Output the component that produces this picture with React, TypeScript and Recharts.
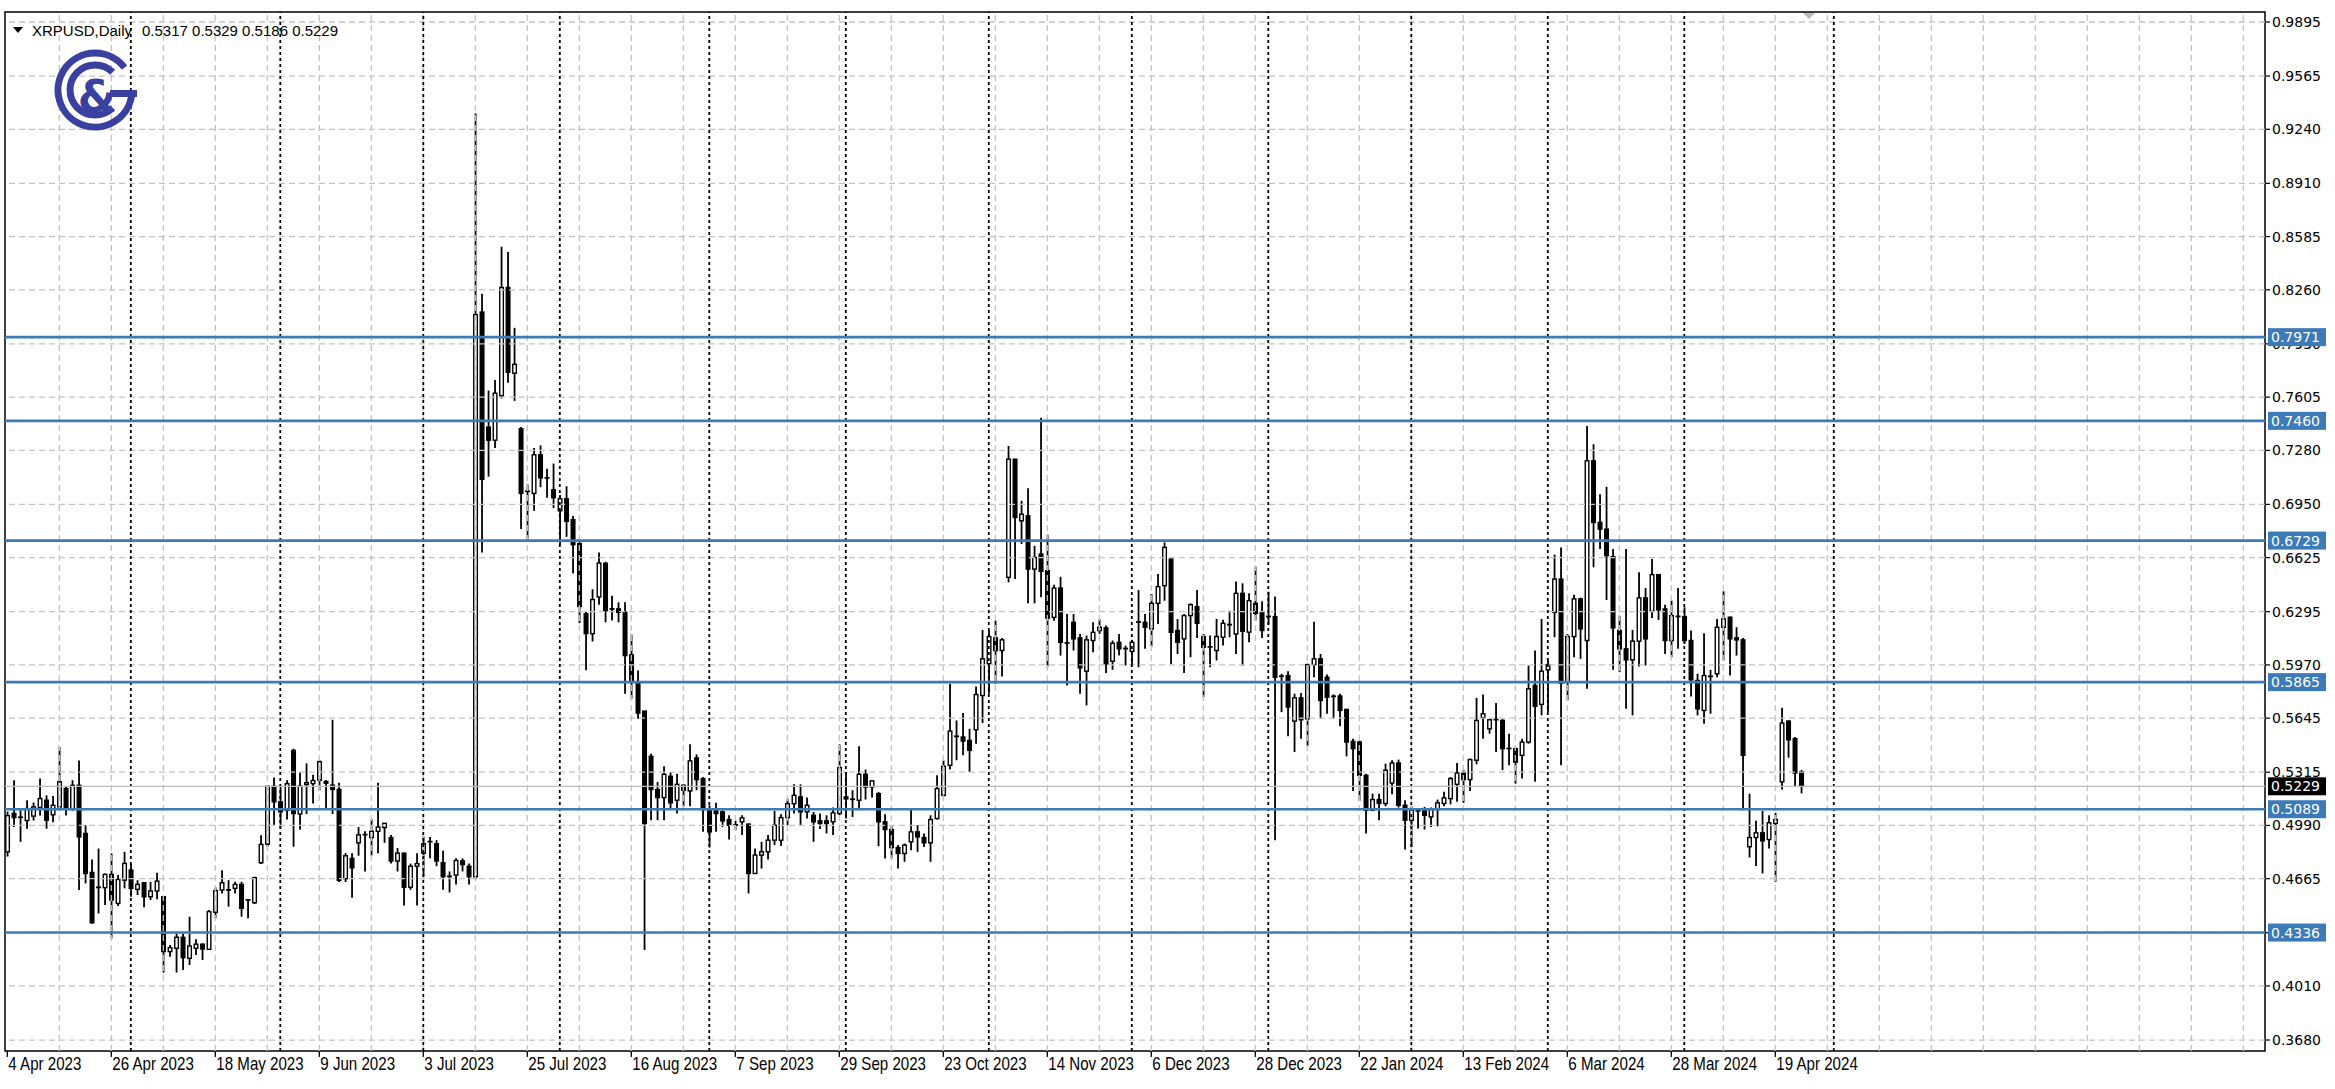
import React from "react";
import { ComposedChart, Bar, XAxis, YAxis, ReferenceLine, ReferenceArea } from "recharts";

// daily bars (weekdays only), bar 0 = 4 Apr 2023
const opens = [
  0.4829, 0.5063, 0.504, 0.502, 0.5047, 0.51, 0.5144, 0.5055, 0.5103, 0.5215,
  0.5093, 0.5235, 0.4941, 0.4703, 0.461, 0.461, 0.4691, 0.4514, 0.4656, 0.4717,
  0.46, 0.464, 0.4555, 0.459, 0.4555, 0.422, 0.424, 0.4307, 0.4179, 0.424,
  0.4265, 0.4234, 0.446, 0.4596, 0.4595, 0.4606, 0.463, 0.4535, 0.4518, 0.4762,
  0.4876, 0.5229, 0.5134, 0.5083, 0.5448, 0.506, 0.524, 0.5245, 0.5267, 0.5258,
  0.5236, 0.521, 0.4665, 0.4789, 0.4884, 0.4932, 0.4916, 0.4954, 0.4977, 0.4916,
  0.4773, 0.4821, 0.4613, 0.4741, 0.4821, 0.4888, 0.4878, 0.4763, 0.4677, 0.4687,
  0.4773, 0.4741, 0.4677, 0.8124, 0.7422, 0.7342, 0.7613, 0.8274, 0.7751, 0.7412,
  0.703, 0.7017, 0.7253, 0.7112, 0.7039, 0.6911, 0.6984, 0.6857, 0.671, 0.6282,
  0.6161, 0.6385, 0.659, 0.6312, 0.6312, 0.6291, 0.6031, 0.5859, 0.5688, 0.5412,
  0.5209, 0.516, 0.529, 0.5144, 0.5235, 0.5201, 0.5402, 0.5276, 0.5079, 0.5079,
  0.5073, 0.5026, 0.4993, 0.5012, 0.4998, 0.4697, 0.4809, 0.4829, 0.49, 0.49,
  0.5038, 0.5123, 0.5164, 0.5073, 0.5052, 0.5018, 0.5018, 0.5012, 0.5063, 0.5164,
  0.515, 0.5144, 0.5302, 0.5225, 0.5184, 0.5012, 0.4965, 0.4855, 0.4819, 0.489,
  0.4951, 0.4916, 0.4884, 0.5032, 0.5174, 0.5357, 0.5533, 0.553, 0.5509, 0.5574,
  0.5783, 0.5977, 0.6135, 0.6058, 0.6505, 0.7226, 0.685, 0.688, 0.6555, 0.6647,
  0.6545, 0.626, 0.6439, 0.6102, 0.623, 0.6135, 0.5932, 0.6119, 0.618, 0.6196,
  0.5993, 0.6108, 0.6068, 0.6053, 0.623, 0.623, 0.619, 0.6346, 0.6454, 0.6616,
  0.618, 0.6129, 0.6271, 0.6326, 0.6143, 0.608, 0.6058, 0.6139, 0.6214, 0.6159,
  0.6407, 0.617, 0.6346, 0.6291, 0.6266, 0.6265, 0.5901, 0.5905, 0.5627, 0.5769,
  0.5641, 0.5972, 0.6007, 0.5895, 0.5778, 0.578, 0.5698, 0.5503, 0.5499, 0.5296,
  0.5083, 0.5148, 0.5124, 0.5249, 0.5371, 0.5113, 0.5022, 0.5079, 0.5079, 0.5042,
  0.5087, 0.5124, 0.5154, 0.5241, 0.531, 0.527, 0.5388, 0.5648, 0.558, 0.5636,
  0.5631, 0.546, 0.5459, 0.5418, 0.5499, 0.5845, 0.5729, 0.594, 0.6291, 0.6494,
  0.5865, 0.6143, 0.6373, 0.6119, 0.7216, 0.684, 0.6799, 0.6631, 0.618, 0.6068,
  0.6001, 0.6115, 0.6379, 0.6297, 0.6521, 0.6312, 0.6119, 0.6265, 0.6265, 0.6119,
  0.5875, 0.5692, 0.59, 0.5916, 0.62, 0.6261, 0.6135, 0.6123, 0.486, 0.4916,
  0.4945, 0.4904, 0.5002, 0.5256, 0.5627, 0.552, 0.5317,
];
const highs = [
  0.5075, 0.5266, 0.5083, 0.5144, 0.513, 0.5276, 0.5174, 0.517, 0.547, 0.523,
  0.5266, 0.5387, 0.4991, 0.4782, 0.4849, 0.4697, 0.4819, 0.4687, 0.4829, 0.4758,
  0.4656, 0.464, 0.4646, 0.4701, 0.4555, 0.426, 0.4331, 0.4331, 0.4433, 0.4295,
  0.427, 0.4474, 0.4612, 0.4717, 0.4656, 0.4646, 0.4646, 0.4541, 0.4677, 0.493,
  0.5235, 0.5282, 0.5235, 0.5266, 0.5458, 0.5315, 0.5369, 0.5299, 0.5389, 0.5267,
  0.5635, 0.5251, 0.4821, 0.4821, 0.498, 0.4954, 0.5028, 0.5251, 0.5003, 0.4932,
  0.4852, 0.4821, 0.4757, 0.4821, 0.4923, 0.492, 0.49, 0.4836, 0.4709, 0.4789,
  0.4789, 0.4757, 0.9337, 0.8236, 0.7645, 0.7709, 0.8523, 0.8491, 0.8028, 0.7422,
  0.7071, 0.7294, 0.731, 0.7167, 0.7199, 0.7007, 0.7061, 0.6879, 0.672, 0.6295,
  0.6432, 0.6656, 0.66, 0.6393, 0.6352, 0.6352, 0.6155, 0.5936, 0.5688, 0.5428,
  0.5256, 0.5351, 0.5316, 0.5306, 0.5241, 0.5485, 0.5424, 0.5286, 0.5113, 0.5128,
  0.5083, 0.5052, 0.5018, 0.5052, 0.5002, 0.4849, 0.489, 0.4931, 0.5079, 0.5059,
  0.5154, 0.5241, 0.5241, 0.516, 0.5073, 0.5063, 0.5052, 0.5099, 0.5485, 0.5316,
  0.5205, 0.5473, 0.5331, 0.5266, 0.5195, 0.5059, 0.4992, 0.487, 0.488, 0.5093,
  0.4992, 0.4941, 0.5052, 0.5296, 0.5388, 0.5855, 0.5631, 0.5676, 0.558, 0.5838,
  0.6184, 0.618, 0.6241, 0.6135, 0.7307, 0.7226, 0.6972, 0.7049, 0.6697, 0.7479,
  0.6765, 0.6459, 0.6508, 0.6281, 0.6281, 0.6159, 0.6149, 0.623, 0.625, 0.621,
  0.6119, 0.6159, 0.6088, 0.6123, 0.6427, 0.6281, 0.6403, 0.6525, 0.6718, 0.6626,
  0.625, 0.6281, 0.6346, 0.6427, 0.6159, 0.6149, 0.6251, 0.6245, 0.6301, 0.648,
  0.6468, 0.6407, 0.657, 0.6358, 0.6417, 0.6387, 0.5916, 0.5932, 0.5794, 0.5798,
  0.5977, 0.6234, 0.6037, 0.5912, 0.579, 0.5794, 0.5702, 0.552, 0.5509, 0.5306,
  0.5184, 0.5184, 0.5367, 0.5388, 0.5392, 0.5144, 0.5107, 0.5087, 0.5103, 0.5099,
  0.5148, 0.5195, 0.5286, 0.5371, 0.5331, 0.5398, 0.5769, 0.579, 0.5639, 0.5737,
  0.5639, 0.555, 0.5465, 0.552, 0.5966, 0.6058, 0.6251, 0.5997, 0.6643, 0.6687,
  0.6159, 0.6399, 0.638, 0.7429, 0.7317, 0.7012, 0.7057, 0.6677, 0.6271, 0.6677,
  0.6184, 0.6535, 0.644, 0.6616, 0.6525, 0.6338, 0.6362, 0.644, 0.6322, 0.618,
  0.5916, 0.6163, 0.594, 0.6251, 0.6419, 0.6265, 0.62, 0.6135, 0.5184, 0.5018,
  0.5079, 0.5052, 0.5067, 0.5708, 0.5631, 0.553, 0.5329,
];
const lows = [
  0.48, 0.4981, 0.489, 0.497, 0.502, 0.505, 0.497, 0.501, 0.508, 0.505,
  0.508, 0.4596, 0.4636, 0.439, 0.4453, 0.4504, 0.4301, 0.4498, 0.4606, 0.4555,
  0.4565, 0.449, 0.4535, 0.4539, 0.4092, 0.4189, 0.4092, 0.4108, 0.4138, 0.4199,
  0.4169, 0.423, 0.4423, 0.4575, 0.4494, 0.4575, 0.4433, 0.4423, 0.451, 0.4754,
  0.486, 0.4991, 0.4977, 0.5026, 0.486, 0.4964, 0.506, 0.5124, 0.5204, 0.5092,
  0.506, 0.4645, 0.4645, 0.4549, 0.4805, 0.4709, 0.4805, 0.4821, 0.4884, 0.4757,
  0.4709, 0.4501, 0.4597, 0.4501, 0.4677, 0.4789, 0.4741, 0.4597, 0.4581, 0.4629,
  0.4709, 0.4629, 0.4661, 0.6656, 0.7119, 0.7294, 0.7597, 0.7693, 0.7582, 0.68,
  0.6736, 0.6911, 0.7055, 0.6991, 0.6927, 0.6704, 0.6752, 0.6528, 0.6225, 0.5938,
  0.6113, 0.6337, 0.623, 0.6241, 0.623, 0.5794, 0.5763, 0.5641, 0.423, 0.5022,
  0.5022, 0.5022, 0.5093, 0.5063, 0.5103, 0.5107, 0.5205, 0.4951, 0.4855, 0.4951,
  0.4981, 0.4904, 0.4961, 0.4931, 0.4575, 0.4697, 0.4727, 0.4782, 0.487, 0.4864,
  0.4991, 0.5063, 0.4991, 0.5032, 0.489, 0.4969, 0.4941, 0.4931, 0.5052, 0.5032,
  0.5042, 0.5083, 0.5148, 0.516, 0.4863, 0.4788, 0.4788, 0.4727, 0.4768, 0.4839,
  0.4829, 0.4859, 0.4768, 0.5026, 0.5164, 0.5331, 0.5388, 0.5418, 0.5316, 0.5489,
  0.5615, 0.5794, 0.5855, 0.5899, 0.6474, 0.6494, 0.6708, 0.6346, 0.6346, 0.6383,
  0.596, 0.624, 0.6027, 0.5844, 0.6058, 0.5794, 0.5723, 0.6047, 0.6159, 0.592,
  0.594, 0.6027, 0.5966, 0.5966, 0.5956, 0.6068, 0.6082, 0.622, 0.6362, 0.5976,
  0.6037, 0.592, 0.6017, 0.6135, 0.5773, 0.5956, 0.5997, 0.6088, 0.6139, 0.6037,
  0.5966, 0.6109, 0.6241, 0.6135, 0.6216, 0.49, 0.5682, 0.5534, 0.5438, 0.552,
  0.5473, 0.5895, 0.5641, 0.5672, 0.5641, 0.5595, 0.5412, 0.5201, 0.514, 0.4941,
  0.5079, 0.5022, 0.5107, 0.518, 0.5099, 0.4843, 0.4859, 0.4971, 0.4965, 0.4981,
  0.4985, 0.5107, 0.5119, 0.5134, 0.5128, 0.5201, 0.5363, 0.552, 0.555, 0.5438,
  0.5327, 0.5357, 0.5245, 0.5276, 0.5489, 0.5256, 0.5662, 0.5682, 0.6139, 0.5357,
  0.5753, 0.6017, 0.6007, 0.5824, 0.6566, 0.6677, 0.6366, 0.594, 0.5926, 0.5702,
  0.5662, 0.596, 0.5966, 0.6257, 0.6245, 0.6037, 0.6017, 0.6068, 0.6098, 0.5777,
  0.5662, 0.5611, 0.5672, 0.5895, 0.5997, 0.5905, 0.6027, 0.5083, 0.4794, 0.4742,
  0.4697, 0.4849, 0.4646, 0.5209, 0.5404, 0.5225, 0.5186,
];
const closes = [
  0.505, 0.5038, 0.5035, 0.5093, 0.5103, 0.5154, 0.5022, 0.5113, 0.5256, 0.5093,
  0.5235, 0.492, 0.4697, 0.4396, 0.4612, 0.4691, 0.4535, 0.466, 0.4758, 0.4606,
  0.463, 0.4555, 0.459, 0.465, 0.422, 0.4244, 0.4307, 0.4183, 0.4254, 0.4265,
  0.4236, 0.4464, 0.4592, 0.464, 0.4596, 0.463, 0.4484, 0.4531, 0.4671, 0.4874,
  0.5229, 0.5134, 0.5073, 0.5245, 0.5063, 0.523, 0.5251, 0.5264, 0.5379, 0.5248,
  0.521, 0.4655, 0.4805, 0.4731, 0.4932, 0.4934, 0.4954, 0.498, 0.5003, 0.4773,
  0.4821, 0.4613, 0.4741, 0.4757, 0.4878, 0.4891, 0.4773, 0.4677, 0.4679, 0.4776,
  0.4751, 0.4677, 0.8108, 0.7103, 0.7342, 0.7629, 0.8274, 0.7757, 0.7805, 0.7017,
  0.7029, 0.7253, 0.7112, 0.711, 0.6991, 0.6984, 0.6847, 0.6704, 0.6327, 0.6161,
  0.6369, 0.6592, 0.6301, 0.631, 0.6291, 0.6027, 0.5871, 0.5676, 0.5002, 0.5209,
  0.516, 0.5302, 0.5128, 0.5241, 0.5205, 0.5384, 0.527, 0.5087, 0.4951, 0.5063,
  0.5018, 0.4992, 0.4991, 0.5036, 0.4697, 0.4809, 0.4829, 0.49, 0.4991, 0.5038,
  0.5123, 0.5174, 0.5073, 0.5113, 0.5012, 0.5002, 0.5002, 0.5067, 0.5343, 0.5152,
  0.5148, 0.5302, 0.5225, 0.5262, 0.5012, 0.4965, 0.4855, 0.4819, 0.487, 0.4951,
  0.492, 0.4884, 0.5026, 0.5215, 0.5351, 0.5566, 0.5534, 0.5505, 0.5449, 0.5789,
  0.6007, 0.6143, 0.6058, 0.6123, 0.7226, 0.687, 0.689, 0.6555, 0.6626, 0.6541,
  0.6256, 0.6439, 0.6108, 0.6104, 0.6129, 0.5952, 0.6123, 0.6169, 0.62, 0.5976,
  0.6102, 0.6068, 0.607, 0.6108, 0.6232, 0.62, 0.6346, 0.6448, 0.6687, 0.6169,
  0.6108, 0.6271, 0.6338, 0.6224, 0.6078, 0.6078, 0.6143, 0.6224, 0.6216, 0.6407,
  0.6176, 0.6362, 0.6285, 0.618, 0.6265, 0.5895, 0.59, 0.5713, 0.5769, 0.5635,
  0.5972, 0.6007, 0.5753, 0.5773, 0.5777, 0.5692, 0.5499, 0.5459, 0.5296, 0.5083,
  0.5148, 0.5124, 0.5327, 0.5371, 0.5113, 0.5022, 0.5087, 0.5078, 0.5052, 0.5087,
  0.5128, 0.5158, 0.5276, 0.531, 0.527, 0.5392, 0.5631, 0.5672, 0.5635, 0.5634,
  0.5459, 0.5459, 0.5377, 0.5499, 0.5824, 0.5717, 0.5932, 0.5972, 0.6494, 0.5859,
  0.6143, 0.6373, 0.619, 0.7216, 0.684, 0.6799, 0.6637, 0.6196, 0.6068, 0.6001,
  0.6115, 0.6379, 0.6129, 0.6521, 0.6306, 0.6119, 0.6271, 0.6266, 0.6119, 0.5879,
  0.5702, 0.5905, 0.5899, 0.62, 0.6251, 0.6129, 0.6123, 0.5418, 0.4916, 0.4945,
  0.4896, 0.5006, 0.5026, 0.5615, 0.5513, 0.531, 0.5229,
];

// x labels, one every 16 bars
const dateLabels = [
  "4 Apr 2023", "26 Apr 2023", "18 May 2023", "9 Jun 2023", "3 Jul 2023", "25 Jul 2023",
  "16 Aug 2023", "7 Sep 2023", "29 Sep 2023", "23 Oct 2023", "14 Nov 2023", "6 Dec 2023",
  "28 Dec 2023", "22 Jan 2024", "13 Feb 2024", "6 Mar 2024", "28 Mar 2024", "19 Apr 2024",
];
const labelStep = 16;
const gridStep = 8;
// first bar of each month
const monthStarts = [19, 42, 64, 85, 108, 129, 151, 173, 194, 216, 237, 258, 281];

const priceTicks = [
  0.9895, 0.9565, 0.924, 0.891, 0.8585, 0.826, 0.793, 0.7605, 0.728, 0.695,
  0.6625, 0.6295, 0.597, 0.5645, 0.5315, 0.499, 0.4665, 0.4335, 0.401, 0.368,
];
const levels = [0.7971, 0.746, 0.6729, 0.5865, 0.5089, 0.4336];
const lastPrice = 0.5229;
const header = { symbol: "XRPUSD,Daily", ohlc: "0.5317 0.5329 0.5186 0.5229" };

const W = 2335;
const H = 1089;
const X_DOMAIN: [number, number] = [-0.354, 347.34];
const Y_DOMAIN: [number, number] = [0.3613, 0.9956];
const BLUE = "#3d7ab8";
const GRID = "#c4c4c4";
const AXIS_FONT = "'DejaVu Sans', Verdana, sans-serif";

const data = opens.map((o, i) => ({
  i,
  o,
  h: highs[i],
  l: lows[i],
  c: closes[i],
  range: [lows[i], highs[i]],
}));

const xTicks = dateLabels.map((_, k) => k * labelStep);
const gridX: number[] = [];
for (let v = gridStep; v < X_DOMAIN[1]; v += gridStep) gridX.push(v);
// boxes come last so they sit on top of the plain tick labels
const yTicks = [...priceTicks, ...levels, lastPrice];

const Candle = (props: any) => {
  const { x, y, width, height, payload } = props;
  if (x == null || y == null || !payload) return null;
  const { o, h, l, c } = payload;
  const k = h > l ? height / (h - l) : 0;
  const cx = x + width / 2;
  const yO = y + (h - o) * k;
  const yC = y + (h - c) * k;
  const top = Math.min(yO, yC);
  const bh = Math.abs(yO - yC);
  const bull = c >= o;
  return (
    <g>
      <line x1={cx} x2={cx} y1={y} y2={y + height} stroke="#000" strokeWidth={1.8} />
      {bh < 1.3 ? (
        <line x1={x} x2={x + width} y1={top} y2={top} stroke="#000" strokeWidth={1.8} />
      ) : (
        <rect
          x={x + 0.7}
          y={top}
          width={width - 1.4}
          height={bh}
          fill={bull ? "#fff" : "#000"}
          stroke="#000"
          strokeWidth={1.4}
        />
      )}
    </g>
  );
};

const DateTick = (props: any) => {
  const { x, y, payload } = props;
  const label = dateLabels[Math.round(payload.value / labelStep)];
  return (
    <g>
      <line x1={x} x2={x} y1={y} y2={y + 6} stroke="#000" strokeWidth={1.3} />
      <text
        transform={`translate(${x + 1}, ${y + 19}) scale(0.84, 1)`}
        fontSize={18}
        fontFamily="'Liberation Sans', Arial, sans-serif"
        fill="#000"
      >
        {label}
      </text>
    </g>
  );
};

const PriceTick = (props: any) => {
  const { x, y, payload } = props;
  const v = Number(payload.value);
  const isLevel = levels.includes(v);
  const isLast = v === lastPrice;
  if (isLevel || isLast) {
    return (
      <g>
        <rect x={x + 3} y={y - 9} width={58} height={18} fill={isLast ? "#000" : BLUE} />
        <text x={x + 6} y={y + 5} fontSize={14} fontFamily={AXIS_FONT} fill="#fff">
          {v.toFixed(4)}
        </text>
      </g>
    );
  }
  return (
    <g>
      <line x1={x} x2={x + 5} y1={y} y2={y} stroke="#000" strokeWidth={1.2} />
      <text x={x + 7} y={y + 5} fontSize={14} fontFamily={AXIS_FONT} fill="#000">
        {v.toFixed(4)}
      </text>
    </g>
  );
};

const Logo = () => (
  <g fill="none" stroke="#3a40a0" strokeWidth={7}>
    <path d="M 124.5 67.7 A 37 37 0 1 0 131.9 93.2" />
    <path d="M 110 93.5 H 137" />
    <path d="M 112.7 72.3 A 25 25 0 1 0 112.7 107.7" />
    <text
      x={97}
      y={112}
      fontSize={44}
      fontWeight="bold"
      fontFamily="'DejaVu Sans', sans-serif"
      textAnchor="middle"
      fill="#3a40a0"
      stroke="none"
    >
      &amp;
    </text>
  </g>
);

export default function App() {
  return (
    <div style={{ position: "relative", width: W, height: H, background: "#fff", overflow: "hidden" }}>
      <style>{"body{margin:0}"}</style>
      <ComposedChart
        width={W}
        height={H}
        data={data}
        margin={{ top: 12, right: 0, bottom: 0, left: 5 }}
      >
        <XAxis
          dataKey="i"
          type="number"
          domain={X_DOMAIN}
          allowDataOverflow
          ticks={xTicks}
          interval={0}
          tick={<DateTick />}
          tickLine={false}
          axisLine={false}
          tickSize={0}
          tickMargin={0}
          height={38}
        />
        <YAxis
          orientation="right"
          type="number"
          domain={Y_DOMAIN}
          allowDataOverflow
          ticks={yTicks}
          interval={0}
          tick={<PriceTick />}
          tickLine={false}
          axisLine={false}
          tickSize={0}
          tickMargin={0}
          width={70}
        />
        {priceTicks.map((p) => (
          <ReferenceLine key={"h" + p} y={p} stroke={GRID} strokeWidth={1.3} strokeDasharray="6 4" />
        ))}
        {gridX.map((v) => (
          <ReferenceLine key={"v" + v} x={v} stroke={GRID} strokeWidth={1.3} strokeDasharray="6 4" />
        ))}
        {monthStarts.map((v) => (
          <ReferenceLine key={"m" + v} x={v} stroke="#000" strokeWidth={1.8} strokeDasharray="3 3" />
        ))}
        <ReferenceLine y={lastPrice} stroke="#bdbdbd" strokeWidth={1.3} />
        <Bar dataKey="range" barSize={5} shape={<Candle />} isAnimationActive={false} />
        {levels.map((p) => (
          <ReferenceLine key={"l" + p} y={p} stroke={BLUE} strokeWidth={2.6} />
        ))}
        <ReferenceArea
          x1={X_DOMAIN[0]}
          x2={X_DOMAIN[1]}
          y1={Y_DOMAIN[0]}
          y2={Y_DOMAIN[1]}
          fill="none"
          stroke="#000"
          strokeWidth={1.5}
          fillOpacity={0}
        />
      </ComposedChart>
      <svg width={W} height={H} style={{ position: "absolute", left: 0, top: 0, pointerEvents: "none" }}>
        <polygon points="13,27 23,27 18,33" fill="#000" />
        <text x={32} y={36} fontSize={15} fontFamily="'Liberation Sans', Arial, sans-serif" fill="#000">
          {header.symbol}
        </text>
        <text x={142} y={36} fontSize={15} fontFamily="'Liberation Sans', Arial, sans-serif" fill="#000">
          {header.ohlc}
        </text>
        <Logo />
        <polygon points="1803,13 1815,13 1809,19" fill="#b8b8b8" />
      </svg>
    </div>
  );
}
